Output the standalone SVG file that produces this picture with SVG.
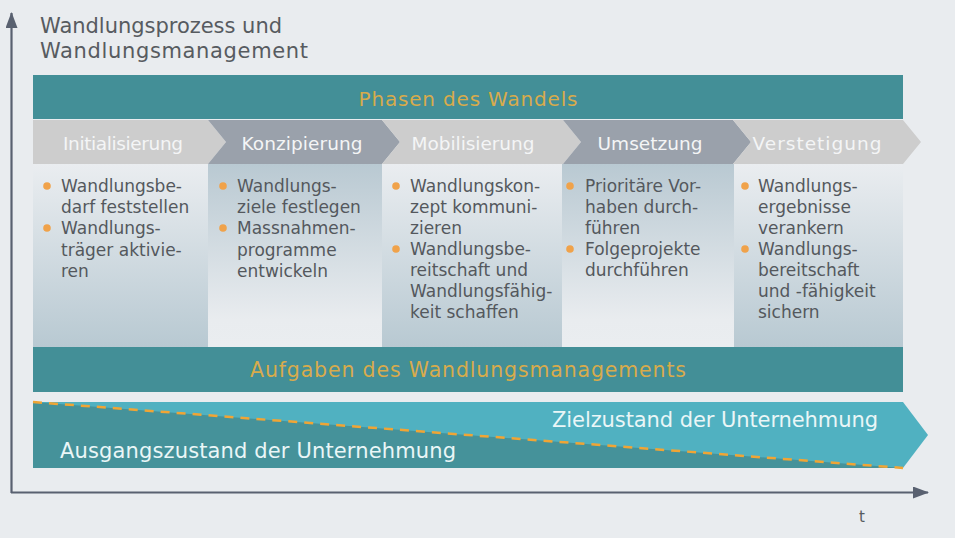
<svg xmlns="http://www.w3.org/2000/svg" width="955" height="538" viewBox="0 0 955 538">
<defs>
<linearGradient id="gDown" x1="0" y1="0" x2="0" y2="1">
<stop offset="0" stop-color="#eaedf0"/>
<stop offset="1" stop-color="#b8c9d2"/>
</linearGradient>
<linearGradient id="gUp" x1="0" y1="0" x2="0" y2="1">
<stop offset="0" stop-color="#b9c9d2"/>
<stop offset="0.85" stop-color="#e9ecef"/>
<stop offset="1" stop-color="#eaedf0"/>
</linearGradient>
<marker id="ah" viewBox="0 0 16 12" refX="15" refY="6" markerWidth="16" markerHeight="12" markerUnits="userSpaceOnUse" orient="auto">
<path d="M0,0 L16,6 L0,12 Z" fill="#596170"/>
</marker>
<style>
.t{font-family:"DejaVu Sans","Liberation Sans",sans-serif}
.title{font-size:21px;fill:#575b60}
.bar{fill:#438f97}
.gold{font-size:20px;fill:#d8ab4c;text-anchor:middle}
.chl{fill:#cdcdcd}
.chd{fill:#9aa1ab}
.chtxt{font-size:18.5px;fill:#f4f5f6;text-anchor:middle}
.body{font-size:17px;fill:#54585d}
.bul{fill:#f0a24a}
.state{font-size:21px;fill:#eaf6f7}
.axis{stroke:#596170;stroke-width:2.2;fill:none}
</style>
</defs>
<rect x="0" y="0" width="955" height="538" fill="#e9ecef"/>

<g id="title">
<text class="t title" x="40" y="33" textLength="242" lengthAdjust="spacing">Wandlungsprozess und</text>
<text class="t title" x="40" y="58" textLength="268" lengthAdjust="spacing">Wandlungsmanagement</text>
</g>

<g id="phasen-header">
<rect class="bar" x="33" y="75" width="870" height="44"/>
<text class="t gold" x="468" y="106" textLength="219" lengthAdjust="spacing">Phasen des Wandels</text>
</g>

<g id="col1">
<rect x="33" y="164" width="175" height="183" fill="url(#gDown)"/>
<polygon class="chl" points="33,120 208,120 226,142 208,164 33,164"/>
<text class="t chtxt" x="123" y="150" textLength="120" lengthAdjust="spacing">Initialisierung</text>
<circle class="bul" cx="47" cy="186" r="3.8"/>
<text class="t body" x="61"><tspan x="61" y="192">Wandlungsbe-</tspan><tspan x="61" y="213">darf feststellen</tspan></text>
<circle class="bul" cx="47" cy="228" r="3.8"/>
<text class="t body" x="61"><tspan x="61" y="234">Wandlungs-</tspan><tspan x="61" y="256">träger aktivie-</tspan><tspan x="61" y="277">ren</tspan></text>
</g>

<g id="col2">
<rect x="208" y="164" width="174" height="183" fill="url(#gUp)"/>
<polygon class="chd" points="208,120 382,120 400,142 382,164 208,164 226,142"/>
<text class="t chtxt" x="302" y="150" textLength="121" lengthAdjust="spacing">Konzipierung</text>
<circle class="bul" cx="223" cy="186" r="3.8"/>
<text class="t body"><tspan x="237" y="192">Wandlungs-</tspan><tspan x="237" y="213">ziele festlegen</tspan></text>
<circle class="bul" cx="223" cy="228" r="3.8"/>
<text class="t body"><tspan x="237" y="234">Massnahmen-</tspan><tspan x="237" y="256">programme</tspan><tspan x="237" y="277">entwickeln</tspan></text>
</g>

<g id="col3">
<rect x="382" y="164" width="180" height="183" fill="url(#gDown)"/>
<polygon class="chl" points="382,120 563,120 581,142 563,164 382,164 400,142"/>
<text class="t chtxt" x="473" y="150" textLength="123" lengthAdjust="spacing">Mobilisierung</text>
<circle class="bul" cx="396" cy="186" r="3.8"/>
<text class="t body"><tspan x="410" y="192">Wandlungskon-</tspan><tspan x="410" y="213">zept kommuni-</tspan><tspan x="410" y="234">zieren</tspan></text>
<circle class="bul" cx="396" cy="249" r="3.8"/>
<text class="t body"><tspan x="410" y="255">Wandlungsbe-</tspan><tspan x="410" y="276">reitschaft und</tspan><tspan x="410" y="297">Wandlungsfähig-</tspan><tspan x="410" y="318">keit schaffen</tspan></text>
</g>

<g id="col4">
<rect x="562" y="164" width="172" height="183" fill="url(#gUp)"/>
<polygon class="chd" points="563,120 733,120 751,142 733,164 563,164 581,142"/>
<text class="t chtxt" x="650" y="150" textLength="105" lengthAdjust="spacing">Umsetzung</text>
<circle class="bul" cx="570" cy="186" r="3.8"/>
<text class="t body"><tspan x="585" y="192">Prioritäre Vor-</tspan><tspan x="585" y="213">haben durch-</tspan><tspan x="585" y="234">führen</tspan></text>
<circle class="bul" cx="570" cy="249" r="3.8"/>
<text class="t body"><tspan x="585" y="255">Folgeprojekte</tspan><tspan x="585" y="276">durchführen</tspan></text>
</g>

<g id="col5">
<rect x="734" y="164" width="169" height="183" fill="url(#gDown)"/>
<polygon class="chl" points="733,120 903,120 921,142 903,164 733,164 751,142"/>
<text class="t chtxt" x="817" y="150" textLength="129" lengthAdjust="spacing">Verstetigung</text>
<circle class="bul" cx="745" cy="186" r="3.8"/>
<text class="t body"><tspan x="758" y="192">Wandlungs-</tspan><tspan x="758" y="213">ergebnisse</tspan><tspan x="758" y="234">verankern</tspan></text>
<circle class="bul" cx="745" cy="249" r="3.8"/>
<text class="t body"><tspan x="758" y="255">Wandlungs-</tspan><tspan x="758" y="276">bereitschaft</tspan><tspan x="758" y="297">und -fähigkeit</tspan><tspan x="758" y="318">sichern</tspan></text>
</g>

<g id="aufgaben">
<rect class="bar" x="33" y="347" width="870" height="45"/>
<text class="t gold" x="468" y="377" style="font-size:20.5px" textLength="436" lengthAdjust="spacing">Aufgaben des Wandlungsmanagements</text>
</g>

<g id="zustand">
<polygon points="33,402 903,402 928,435 903,468 33,468" fill="#50b1c1"/>
<polygon points="33,402 903,468 33,468" fill="#45929a"/>
<line x1="33" y1="402" x2="903" y2="468" stroke="#f0a535" stroke-width="2.5" stroke-dasharray="9 7"/>
<text class="t state" x="552" y="427" textLength="326" lengthAdjust="spacing">Zielzustand der Unternehmung</text>
<text class="t state" x="60" y="458" textLength="396" lengthAdjust="spacing">Ausgangszustand der Unternehmung</text>
</g>

<g id="connectors">
<line class="axis" x1="11.5" y1="493" x2="11.5" y2="13" marker-end="url(#ah)"/>
<line class="axis" x1="11" y1="492.5" x2="928" y2="492.5" marker-end="url(#ah)"/>
<text class="t" x="862" y="522" style="font-size:15px;fill:#575b60" text-anchor="middle">t</text>
</g>
</svg>
